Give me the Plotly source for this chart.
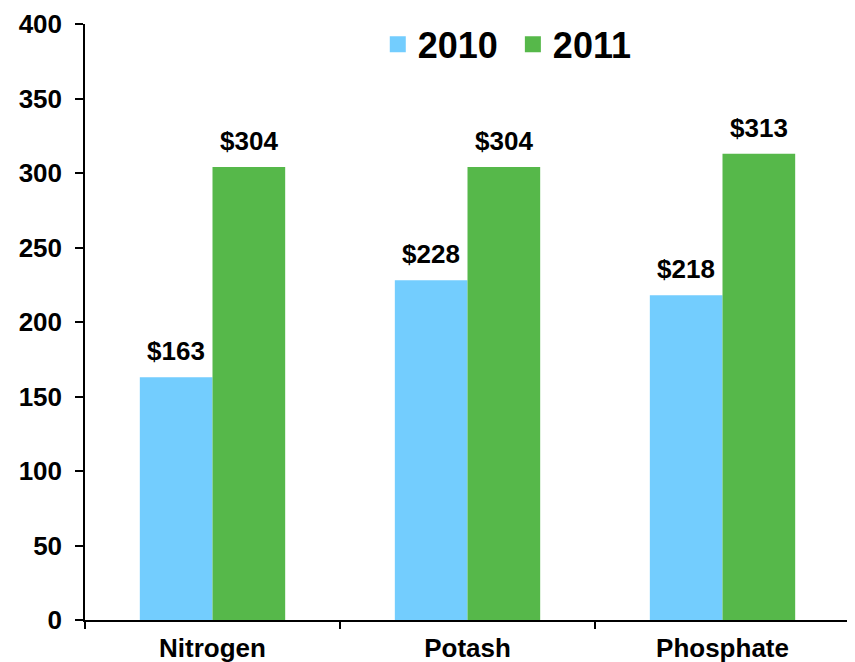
import plotly.graph_objects as go

categories = ["Nitrogen", "Potash", "Phosphate"]
values_2010 = [163, 228, 218]
values_2011 = [304, 304, 313]
series_names = ["2010", "2011"]
colors = ["#73CDFE", "#56B84A"]
y_ticks = [0, 50, 100, 150, 200, 250, 300, 350, 400]

FONT = "Liberation Sans, Arial"
bargap = 0.43
fig = go.Figure()
for name, vals, col in zip(series_names, [values_2010, values_2011], colors):
    fig.add_trace(go.Bar(x=categories, y=vals, name=name, showlegend=False,
                         marker=dict(color=col, line=dict(width=0))))
# legend entries with larger square swatches
for idx, (name, col) in enumerate(zip(series_names, colors)):
    label = name + (" " if idx == 0 else "")
    fig.add_trace(go.Scatter(x=[None], y=[None], mode="markers", name=label,
                             marker=dict(symbol="square", size=18, color=col, line=dict(width=0))))

bw = (1 - bargap) / 2
annotations = []
for k, vals in enumerate([values_2010, values_2011]):
    off = (k - 0.5) * bw
    for i, v in enumerate(vals):
        annotations.append(dict(x=i + off, y=v, xref="x", yref="y", text=f"<b>${v}</b>",
                                showarrow=False, yanchor="bottom", yshift=9,
                                font=dict(size=26, color="black", family=FONT)))

fig.update_layout(
    width=847, height=654,
    margin=dict(l=77, r=5, t=16, b=42),
    paper_bgcolor="white", plot_bgcolor="white",
    barmode="group", bargap=bargap, bargroupgap=0,
    font=dict(family=FONT, color="black"),
    showlegend=True,
    legend=dict(orientation="h", x=0.552, xanchor="center", y=0.966, yanchor="middle",
                font=dict(size=36, color="black", weight="bold"), bgcolor="rgba(0,0,0,0)",
                itemwidth=30, tracegroupgap=0, itemsizing="trace"),
    annotations=annotations,
)
fig.update_xaxes(showline=True, linecolor="black", linewidth=1.5, ticks="outside", tickson="boundaries",
                 ticklen=7, tickcolor="black", tickwidth=1.5, ticklabelstandoff=4,
                 tickfont=dict(size=26, weight="bold"), showgrid=False, automargin=False)
fig.update_yaxes(range=[0, 400], tickvals=y_ticks, showline=True, linecolor="black", linewidth=1.5,
                 ticks="outside", ticklen=8, tickcolor="black", tickwidth=1.5, ticklabelstandoff=8,
                 ticklabeloverflow="allow", automargin=False,
                 tickfont=dict(size=26, weight="bold"), showgrid=False, zeroline=False)
fig.write_html("out.html")
